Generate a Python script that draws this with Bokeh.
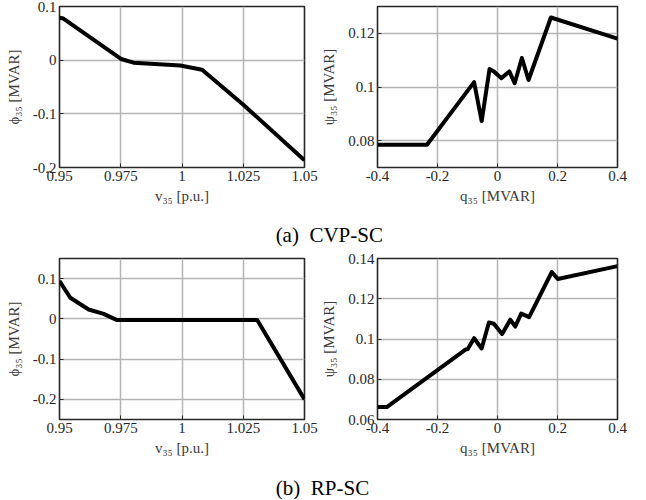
from bokeh.plotting import figure
from bokeh.layouts import column, row
from bokeh.models import Range1d, FixedTicker
from bokeh.core.properties import value
from bokeh.embed import file_html
from bokeh.resources import INLINE

# ---- data ----
# (a) CVP-SC, left: phi35 vs v35
a1_v = [0.95, 0.9516, 0.9751, 0.9802, 0.9993, 1.0082, 1.0248, 1.05]
a1_phi = [0.079, 0.0775, 0.0022, -0.0047, -0.010, -0.0178, -0.0820, -0.1865]
# (a) CVP-SC, right: psi35 vs q35
a2_q = [-0.4, -0.235, -0.078, -0.0528, -0.0265, -0.012, 0.013, 0.0394,
        0.0572, 0.0813, 0.1034, 0.178, 0.4]
a2_psi = [0.0785, 0.0785, 0.1018, 0.0873, 0.1067, 0.1058, 0.1033, 0.1058,
          0.1014, 0.1108, 0.1026, 0.1259, 0.118]
# (b) RP-SC, left: phi35 vs v35
b1_v = [0.95, 0.9544, 0.9619, 0.968, 0.9735, 1.0307, 1.05]
b1_phi = [0.094, 0.0525, 0.0233, 0.0125, -0.003, -0.003, -0.2]
# (b) RP-SC, right: psi35 vs q35
b2_q = [-0.4, -0.369, -0.1056, -0.099, -0.078, -0.0529, -0.0286, -0.0121,
        0.0153, 0.0427, 0.0592, 0.079, 0.1054, 0.181, 0.2008, 0.4]
b2_psi = [0.0662, 0.0662, 0.0948, 0.0950, 0.1004, 0.0953, 0.1082, 0.1076,
          0.1025, 0.1096, 0.1062, 0.1126, 0.1109, 0.1333, 0.1298, 0.1362]

v_ticks = [0.95, 0.975, 1.0, 1.025, 1.05]
v_labels = ["0.95", "0.975", "1", "1.025", "1.05"]
q_ticks = [-0.4, -0.2, 0.0, 0.2, 0.4]
q_labels = ["-0.4", "-0.2", "0", "0.2", "0.4"]
a1_yticks = [-0.2, -0.1, 0.0, 0.1]
a1_ylabels = ["-0.2", "-0.1", "0", "0.1"]
a2_yticks = [0.08, 0.1, 0.12]
a2_ylabels = ["0.08", "0.1", "0.12"]
b1_yticks = [-0.2, -0.1, 0.0, 0.1]
b1_ylabels = ["-0.2", "-0.1", "0", "0.1"]
b2_yticks = [0.06, 0.08, 0.1, 0.12, 0.14]
b2_ylabels = ["0.06", "0.08", "0.1", "0.12", "0.14"]

captions = ["(a)\u2002CVP-SC", "(b)\u2002RP-SC"]

FONT = "'Liberation Serif'"
TXT = "#262626"


def panel(xs, ys, xr, yr, xt, xl, yt, yl, xlabel, ylabel, left, frame_w, right, frame_h):
    p = figure(width=left + frame_w + right, height=6 + frame_h + 42,
               x_range=Range1d(*xr), y_range=Range1d(*yr),
               output_backend="svg", toolbar_location=None,
               min_border_left=left, min_border_right=right,
               min_border_top=6, min_border_bottom=42)
    p.background_fill_color = "white"
    p.border_fill_color = "white"
    p.outline_line_color = TXT
    p.outline_line_width = 1.6
    p.xaxis.ticker = FixedTicker(ticks=xt)
    p.yaxis.ticker = FixedTicker(ticks=yt)
    p.xaxis.major_label_overrides = {t: l for t, l in zip(xt, xl)}
    p.yaxis.major_label_overrides = {t: l for t, l in zip(yt, yl)}
    for ax in (p.xaxis[0], p.yaxis[0]):
        ax.axis_line_color = None
        ax.major_tick_in = 4
        ax.major_tick_out = 0
        ax.major_tick_line_color = TXT
        ax.minor_tick_line_color = None
        ax.major_label_text_font = FONT
        ax.major_label_text_font_size = "15px"
        ax.major_label_text_color = TXT
        ax.axis_label_text_font = FONT
        ax.axis_label_text_font_size = "15px"
        ax.axis_label_text_font_style = "normal"
        ax.axis_label_text_color = "#3a3a3a"
    p.xaxis.major_label_standoff = 3
    p.yaxis.major_label_standoff = 3
    p.xaxis.axis_label_standoff = 4
    p.yaxis.axis_label_standoff = 8
    p.xaxis.axis_label = xlabel
    p.yaxis.axis_label = ylabel
    p.grid.grid_line_color = "#b4b4b4"
    p.grid.grid_line_width = 1.5
    p.line(xs, ys, line_color="black", line_width=4, line_join="round")
    return p


p1 = panel(a1_v, a1_phi, (0.95, 1.05), (-0.2, 0.1), v_ticks, v_labels,
           a1_yticks, a1_ylabels, "v\u2083\u2085 [p.u.]", "\u03d5\u2083\u2085 [MVAR]",
           59, 245, 14, 161)
p2 = panel(a2_q, a2_psi, (-0.4, 0.4), (0.07, 0.13), q_ticks, q_labels,
           a2_yticks, a2_ylabels, "q\u2083\u2085 [MVAR]", "\u03c8\u2083\u2085 [MVAR]",
           56, 243, 14, 161)
p3 = panel(b1_v, b1_phi, (0.95, 1.05), (-0.25, 0.15), v_ticks, v_labels,
           b1_yticks, b1_ylabels, "v\u2083\u2085 [p.u.]", "\u03d5\u2083\u2085 [MVAR]",
           59, 245, 14, 161)
p4 = panel(b2_q, b2_psi, (-0.4, 0.4), (0.06, 0.14), q_ticks, q_labels,
           b2_yticks, b2_ylabels, "q\u2083\u2085 [MVAR]", "\u03c8\u2083\u2085 [MVAR]",
           56, 243, 14, 161)


def caption(text, height, xfrac, yfrac):
    c = figure(width=631, height=height, x_range=Range1d(0, 1), y_range=Range1d(0, 1),
               output_backend="svg", toolbar_location=None,
               min_border=0, min_border_left=0, min_border_right=0,
               min_border_top=0, min_border_bottom=0)
    c.axis.visible = False
    c.grid.visible = False
    c.outline_line_color = None
    c.background_fill_color = "white"
    c.border_fill_color = "white"
    c.text(x=[xfrac], y=[yfrac], text=[text], text_font=value(FONT),
           text_font_size="21px", text_color="black",
           text_align="center", text_baseline="middle")
    return c


c1 = caption(captions[0], 43, 328.8 / 631, 1 - 25 / 43)
c2 = caption(captions[1], 38, 322.0 / 631, 1 - 26 / 38)

layout = column(row(p1, p2), c1, row(p3, p4), c2)
open("out.html", "w").write(file_html(layout, INLINE))
